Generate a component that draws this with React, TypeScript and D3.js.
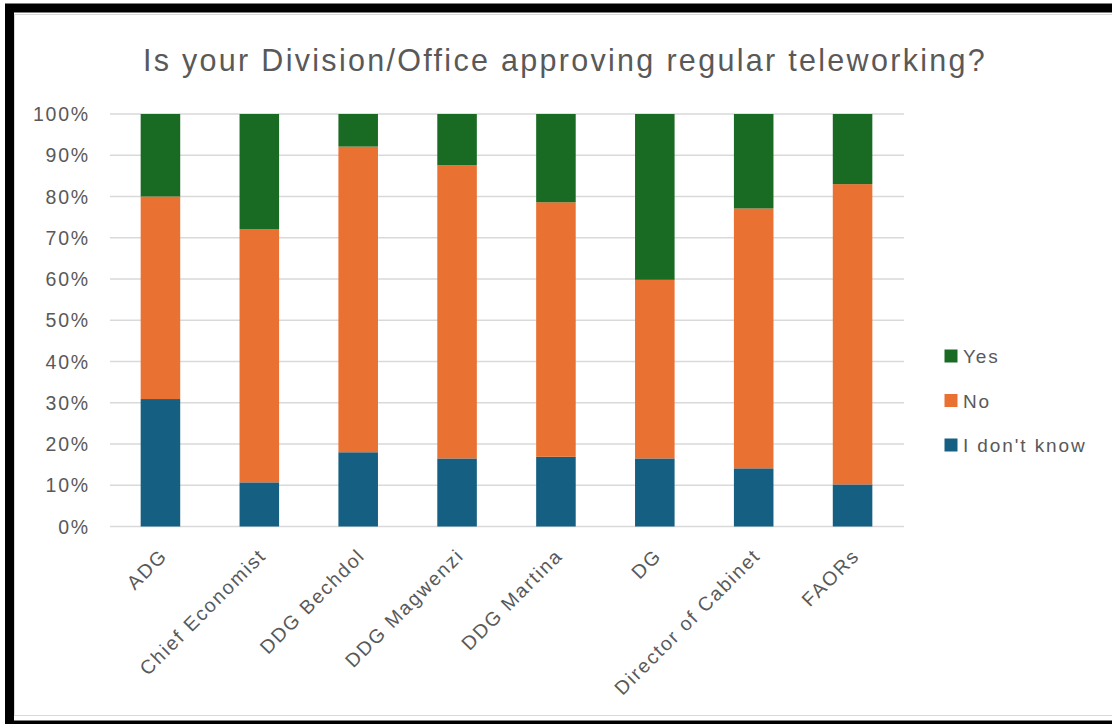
import React from "react";
import * as d3 from "d3";

const categories = [
  "ADG",
  "Chief Economist",
  "DDG Bechdol",
  "DDG Magwenzi",
  "DDG Martina",
  "DG",
  "Director of Cabinet",
  "FAORs",
];
const dontKnow = [30.9, 10.7, 18.0, 16.5, 16.9, 16.5, 14.1, 10.2];
const no = [49.1, 61.4, 74.1, 71.1, 61.7, 43.3, 63.0, 72.8];
const yes = [20.0, 27.9, 7.9, 12.4, 21.4, 40.2, 22.9, 17.0];
const seriesNames = ["I don't know", "No", "Yes"];
const seriesColors = ["#156082", "#E97132", "#196B24"];
const yTicks = [0, 10, 20, 30, 40, 50, 60, 70, 80, 90, 100];
const title = "Is your Division/Office approving regular teleworking?";

const W = 1112;
const H = 724;
const FONT = "'Liberation Sans', Arial, sans-serif";
const TEXT = "#595959";

export default function App() {
  const x = d3
    .scaleBand<string>()
    .domain(categories)
    .range([111, 902])
    .paddingInner(0.6)
    .paddingOuter(0.3);
  const y = d3.scaleLinear().domain([0, 100]).range([526.5, 114]);

  const rows = categories.map((c, i) => ({
    cat: c,
    "I don't know": dontKnow[i],
    No: no[i],
    Yes: yes[i],
  }));
  const stacked = d3.stack<any>().keys(seriesNames)(rows);

  const legendOrder = [2, 1, 0];

  return (
    <svg
      width={W}
      height={H}
      style={{ position: "absolute", left: 0, top: 0, background: "#fff" }}
      fontFamily={FONT}
    >
      <rect x={0} y={0} width={W} height={H} fill="#fff" />
      {/* outer black frame */}
      <rect x={9.5} y={8} width={W + 20} height={H - 7} fill="none" stroke="#000" strokeWidth={9} />
      <rect x={14.5} y={14.5} width={W} height={H - 23} fill="none" stroke="#d9d9d9" strokeWidth={1} />

      <text
        x={565}
        y={71}
        textAnchor="middle"
        fontSize={30.5}
        fill={TEXT}
        letterSpacing={2.3}
      >
        {title}
      </text>

      {/* gridlines */}
      {yTicks.map((t) => (
        <line
          key={t}
          x1={110}
          x2={904}
          y1={y(t)}
          y2={y(t)}
          stroke="#d9d9d9"
          strokeWidth={1.5}
        />
      ))}
      {yTicks.map((t) => (
        <text
          key={"l" + t}
          x={90}
          y={y(t) + 7}
          textAnchor="end"
          fontSize={19.5}
          fill={TEXT}
          letterSpacing={1.8}
        >
          {t + "%"}
        </text>
      ))}

      {/* bars */}
      {stacked.map((s, si) => (
        <g key={s.key} fill={seriesColors[si]}>
          {s.map((d, i) => (
            <rect
              key={i}
              x={x(categories[i])}
              width={x.bandwidth()}
              y={y(d[1])}
              height={y(d[0]) - y(d[1])}
            />
          ))}
        </g>
      ))}

      {/* category labels */}
      {categories.map((c) => {
        const cx = (x(c) as number) + x.bandwidth() / 2;
        return (
          <text
            key={c}
            transform={`translate(${cx + 8},${557}) rotate(-45)`}
            textAnchor="end"
            fontSize={19.5}
            fill={TEXT}
            letterSpacing={1.8}
          >
            {c}
          </text>
        );
      })}

      {/* legend */}
      {legendOrder.map((si, k) => {
        const cy = 356 + k * 44.5;
        return (
          <g key={si}>
            <rect x={944.5} y={cy - 6.5} width={13} height={13} fill={seriesColors[si]} />
            <text x={963} y={cy + 7} fontSize={19} fill={TEXT} letterSpacing={1.9}>
              {seriesNames[si]}
            </text>
          </g>
        );
      })}
    </svg>
  );
}
